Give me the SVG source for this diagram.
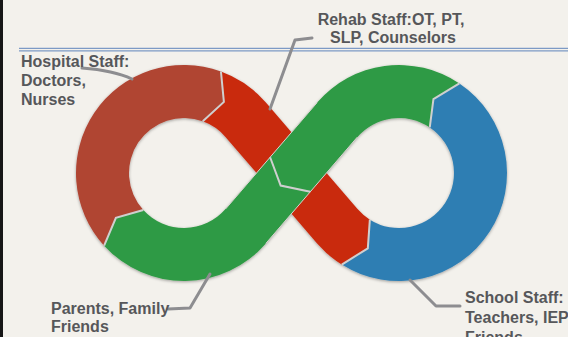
<svg xmlns="http://www.w3.org/2000/svg" width="568" height="337" viewBox="0 0 568 337">
  <defs>
    <filter id="shadow" x="-10%" y="-10%" width="120%" height="120%">
      <feDropShadow dx="0" dy="1" stdDeviation="1.6" flood-color="#000" flood-opacity="0.35"/>
    </filter>
  </defs>
  <style>
    .lbl { font-family: "Liberation Sans", Arial, Helvetica, sans-serif; font-weight: bold; font-size: 16px; fill: #56575a; }
    .div { fill: none; stroke: #cfcfcf; stroke-width: 2; stroke-linejoin: miter; }
    .edge { fill: none; stroke: #d8d4cf; stroke-width: 1; }
    .lead { fill: none; stroke: #8d8d90; stroke-width: 3; stroke-linecap: round; stroke-linejoin: round; }
    .rule { stroke: #7d9ac5; stroke-width: 1.3; }
  </style>

  <rect x="0" y="0" width="568" height="337" fill="#f3f1ec"/>
  <rect x="0" y="0" width="3" height="337" fill="#161616"/>
  <line class="rule" x1="19" y1="48.3" x2="568" y2="48.3"/>
  <line class="rule" x1="19" y1="50.8" x2="568" y2="50.8"/>

  <g id="ribbon" filter="url(#shadow)">
    <g id="seg-hospital">
      <path fill="#b04433" d="M104.12,245.68 A108,108 0 0 1 220.94,71.51 L223.89,101.92 L202.81,121.32 A55,55 0 0 0 143.32,210.02 L115.88,217.74 Z"/>
    </g>
    <g id="seg-rehab">
      <path fill="#c9290d" d="M220.94,71.51 A108,108 0 0 1 265.87,102.57 L357.30,208.87 A55,55 0 0 0 369.86,219.64 L367.81,248.30 L341.77,264.58 A108,108 0 0 1 317.13,243.43 L225.70,137.13 A55,55 0 0 0 202.81,121.32 L223.89,101.92 Z"/>
    </g>
    <g id="seg-school">
      <path fill="#2f7eb3" d="M341.77,264.58 A108,108 0 0 0 489.58,231.82 A108,108 0 0 0 459.39,83.47 L433.44,99.14 L429.76,127.40 A55,55 0 0 1 445.13,202.95 A55,55 0 0 1 369.86,219.64 L367.81,248.30 Z"/>
    </g>
    <g id="seg-family-upper">
      <path fill="#2f9a44" d="M459.39,83.47 A108,108 0 0 0 317.13,102.57 L270.11,157.24 L280.68,185.58 L310.29,191.80 L357.30,137.13 A55,55 0 0 1 429.76,127.40 L433.44,99.14 Z"/>
    </g>
    <g id="seg-family-lower">
      <path fill="#2f9a44" d="M270.11,157.24 L225.70,208.87 A55,55 0 0 1 143.32,210.02 L115.88,217.74 L104.12,245.68 A108,108 0 0 0 265.87,243.43 L310.29,191.80 L280.68,185.58 Z"/>
    </g>
  </g>

  <g id="dividers">
    <line class="edge" x1="317.13" y1="102.57" x2="225.70" y2="208.87"/>
    <line class="edge" x1="357.30" y1="137.13" x2="265.87" y2="243.43"/>
    <polyline class="div" points="220.94,71.51 223.89,101.92 202.81,121.32"/>
    <polyline class="div" points="104.12,245.68 115.88,217.74 143.32,210.02"/>
    <polyline class="div" points="341.77,264.58 367.81,248.30 369.86,219.64"/>
    <polyline class="div" points="459.39,83.47 433.44,99.14 429.76,127.40"/>
    <polyline class="div" points="270.11,157.24 280.68,185.58 310.29,191.80"/>
  </g>

  <g id="connectors">
    <path class="lead" d="M82,68 C95,69 115,71 132,79"/>
    <path class="lead" d="M270,109 L295,40 L312,38"/>
    <path class="lead" d="M168,309 L190,308 L210,274"/>
    <path class="lead" d="M410,280 L436,306 L460,306"/>
  </g>

  <g id="label-hospital">
    <text class="lbl" x="21" y="67">Hospital Staff:</text>
    <text class="lbl" x="21" y="86">Doctors,</text>
    <text class="lbl" x="21" y="105">Nurses</text>
  </g>
  <g id="label-rehab">
    <text class="lbl" x="391" y="25" text-anchor="middle">Rehab Staff:OT, PT,</text>
    <text class="lbl" x="393" y="43" text-anchor="middle">SLP, Counselors</text>
  </g>
  <g id="label-family">
    <text class="lbl" x="51" y="314">Parents, Family</text>
    <text class="lbl" x="51" y="332">Friends</text>
  </g>
  <g id="label-school">
    <text class="lbl" x="465" y="303">School Staff:</text>
    <text class="lbl" x="465" y="323">Teachers, IEP</text>
    <text class="lbl" x="465" y="343">Friends</text>
  </g>
</svg>
